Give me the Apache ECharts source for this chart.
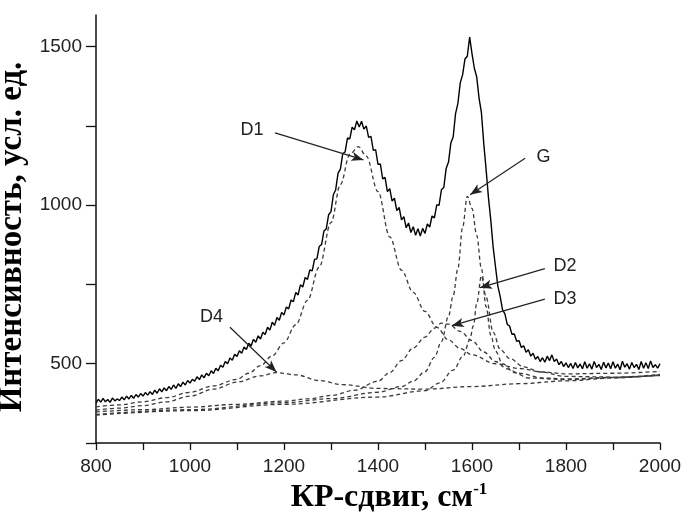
<!DOCTYPE html>
<html>
<head>
<meta charset="utf-8">
<script src="https://cdn.jsdelivr.net/npm/echarts@6/dist/echarts.min.js"></script>
<style>html,body{margin:0;padding:0;background:#fff}#c{width:690px;height:516px}</style>
</head>
<body>
<div id="c"></div>
<script>
// Measured Raman spectrum (raman shift, cm-1) and intensity (a.u.)
const measuredShift = [
800,805,810,815,820,825,830,835,840,845,
850,855,860,865,870,875,880,885,890,895,
900,905,910,915,920,925,930,935,940,945,
950,955,960,965,970,975,980,985,990,995,
1000,1005,1010,1015,1020,1025,1030,1035,1040,1045,
1050,1055,1060,1065,1070,1075,1080,1085,1090,1095,
1100,1105,1110,1115,1120,1125,1130,1135,1140,1145,
1150,1155,1160,1165,1170,1175,1180,1185,1190,1195,
1200,1205,1210,1215,1220,1225,1230,1235,1240,1245,
1250,1255,1260,1265,1270,1275,1280,1285,1290,1295,
1300,1305,1310,1315,1320,1325,1330,1335,1340,1345,
1350,1355,1360,1365,1370,1375,1380,1385,1390,1395,
1400,1405,1410,1415,1420,1425,1430,1435,1440,1445,
1450,1455,1460,1465,1470,1475,1480,1485,1490,1495,
1500,1505,1510,1515,1520,1525,1530,1535,1540,1545,
1550,1555,1560,1565,1570,1575,1580,1585,1590,1595,
1600,1605,1610,1615,1620,1625,1630,1635,1640,1645,
1650,1655,1660,1665,1670,1675,1680,1685,1690,1695,
1700,1705,1710,1715,1720,1725,1730,1735,1740,1745,
1750,1755,1760,1765,1770,1775,1780,1785,1790,1795,
1800,1805,1810,1815,1820,1825,1830,1835,1840,1845,
1850,1855,1860,1865,1870,1875,1880,1885,1890,1895,
1900,1905,1910,1915,1920,1925,1930,1935,1940,1945,
1950,1955,1960,1965,1970,1975,1980,1985,1990,1995,
2000];
const measuredIntensity = [
376,388,379,391,380,387,378,392,383,389,
384,395,386,398,389,400,391,403,395,406,
398,409,401,412,403,417,407,421,411,424,
415,428,419,433,422,437,428,442,433,447,
439,451,445,459,450,465,456,470,462,478,
469,486,478,495,489,507,500,518,511,530,
523,541,533,553,545,565,556,577,568,588,
578,599,592,615,606,631,621,646,637,662,
654,679,673,701,696,725,717,749,742,772,
766,796,793,829,831,870,876,919,926,970,
980,1033,1049,1101,1114,1163,1168,1212,1209,1246,
1238,1266,1247,1265,1240,1250,1214,1217,1173,1175,
1129,1130,1083,1088,1043,1052,1013,1022,983,993,
954,964,929,944,914,932,905,926,903,927,
911,941,931,966,960,1001,1000,1049,1056,1116,
1136,1196,1216,1289,1321,1386,1411,1461,1470,1530,
1478,1432,1405,1338,1293,1195,1113,1024,953,868,
806,745,712,670,657,624,619,593,594,571,
573,551,557,536,544,524,533,514,523,507,
519,505,524,510,528,507,515,497,507,491,
503,488,501,485,504,487,499,484,506,486,
500,483,507,488,498,482,505,487,502,484,
506,486,499,481,508,489,500,483,504,488,
498,482,507,486,503,485,509,488,497,486,
500];

// Fitted components (each drawn on top of the linear background)
const d1Shift = [800,850,900,950,1000,1050,1100,1125,1150,1175,1200,1225,1250,1275,1300,1320,1340,1358,1375,1400,1425,1450,1475,1500,1525,1550,1575,1600,1650,1700,1750,1800,1900,2000];
const d1Value = [364,370,380,393,410,430,451,470,494,525,566,623,700,805,945,1065,1160,1185,1155,1043,900,795,725,665,615,575,548,528,500,485,474,468,470,476];

const d4Shift = [800,850,900,950,1000,1050,1100,1150,1184,1225,1275,1325,1400,1500,1600,1700,1800,1900,2000];
const d4Value = [354,360,368,380,398,420,442,462,472,465,447,434,422,420,428,437,446,455,465];

const d3Shift = [800,900,1000,1100,1200,1250,1300,1350,1400,1425,1450,1475,1500,1520,1535,1550,1575,1600,1625,1650,1675,1700,1750,1800,1900,2000];
const d3Value = [348,355,363,372,382,389,400,416,445,472,510,550,584,612,628,625,602,573,537,507,484,470,455,452,457,466];

const gShift = [800,1000,1200,1300,1400,1450,1475,1500,1520,1535,1550,1560,1570,1580,1590,1600,1610,1620,1630,1640,1650,1665,1690,1720,1800,1900,2000];
const gValue = [340,355,377,390,410,428,445,475,520,570,650,715,800,930,1028,990,905,800,680,590,540,500,472,455,450,456,464];

const d2Shift = [800,1000,1200,1400,1500,1532,1560,1582,1595,1603,1610,1620,1630,1645,1660,1681,1710,1745,1800,1900,2000];
const d2Value = [338,352,372,395,415,440,480,526,575,620,690,777,710,600,545,516,490,474,460,458,463];

// Band labels and arrow (start -> end) in data units
const bandNames = ['D1','G','D2','D3','D4'];
const labelPos  = [[1132,1237],[1752,1153],[1798,808],[1798,704],[1046,646]];
const arrowFrom = [[1181,1228],[1713,1148],[1755,800],[1755,704],[1085,615]];
const arrowTo   = [[1369,1143],[1596,1033],[1617,740],[1557,620],[1184,474]];

const xTicks = [800,900,1000,1100,1200,1300,1400,1500,1600,1700,1800,1900,2000];
const xLabels = [800,1000,1200,1400,1600,1800,2000];
const yTicks = [250,500,750,1000,1250,1500];
const yLabels = [500,1000,1500];

function pairs(xs, ys){ return xs.map((x,i)=>[x, ys[i]]); }

const dashStyle = {color:'#3a3a3a', width:1.3, type:[4,3]};
function comp(name, xs, ys){
  return {name, type:'line', data:pairs(xs,ys), showSymbol:false, smooth:0.35, smoothMonotone:'x',
          lineStyle:dashStyle, z:2, silent:true};
}

const chart = echarts.init(document.getElementById('c'), null, {renderer:'canvas'});
const axisCol = '#111';
chart.setOption({
  animation:false,
  backgroundColor:'#fff',
  grid:{left:96, right:30, top:15, bottom:73, containLabel:false, outerBoundsMode:'none'},
  xAxis:{
    type:'value', min:800, max:2000, interval:100,
    axisLine:{onZero:false, lineStyle:{color:axisCol, width:1.5}},
    axisTick:{show:true, length:7, customValues:xTicks, lineStyle:{color:axisCol, width:1.3}},
    axisLabel:{customValues:xLabels, margin:14, fontSize:19, fontFamily:'Liberation Sans', color:'#222',
               formatter:v=> (xLabels.indexOf(v)>=0 ? String(v) : '')},
    splitLine:{show:false},
    name:'{a|КР-сдвиг, см}{s|-1}', nameLocation:'middle', nameGap:36,
    nameTextStyle:{padding:[0,0,0,22], rich:{
      a:{fontFamily:'Liberation Serif', fontWeight:'bold', fontSize:32, color:'#000', lineHeight:34},
      s:{fontFamily:'Liberation Serif', fontWeight:'bold', fontSize:17, color:'#000', lineHeight:17, verticalAlign:'top'}
    }}
  },
  yAxis:{
    type:'value', min:250, max:1600, interval:250,
    axisLine:{show:true, onZero:false, lineStyle:{color:axisCol, width:1.5}},
    axisTick:{show:true, length:10, customValues:yTicks, lineStyle:{color:axisCol, width:1.3}},
    axisLabel:{customValues:yLabels, margin:14, fontSize:19, fontFamily:'Liberation Sans', color:'#222',
               formatter:v=> (yLabels.indexOf(v)>=0 ? String(v) : '')},
    splitLine:{show:false},
    name:'Интенсивность, усл. ед.', nameLocation:'middle', nameGap:46, nameRotate:90,
    nameTextStyle:{fontFamily:'Liberation Serif', fontWeight:'bold', fontSize:33, color:'#000', padding:[0,16,0,0]}
  },
  series:[
    comp('D1', d1Shift, d1Value),
    comp('D4', d4Shift, d4Value),
    comp('D3', d3Shift, d3Value),
    comp('G', gShift, gValue),
    comp('D2', d2Shift, d2Value),
    {
      name:'measured', type:'line', data:pairs(measuredShift, measuredIntensity),
      showSymbol:false, lineStyle:{color:'#000', width:1.4}, z:3, silent:true,
      markLine:{
        silent:true, symbol:['none','arrow'], symbolSize:12, precision:0,
        lineStyle:{type:'solid', color:'#222', width:1.2},
        label:{show:false},
        data: arrowFrom.map((a,i)=>[{coord:a, symbol:'none'},{coord:arrowTo[i], symbol:'arrow', symbolSize:[7,12]}])
      },
      markPoint:{
        silent:true, symbol:'circle', symbolSize:1,
        itemStyle:{color:'rgba(0,0,0,0)'},
        label:{show:true, position:'inside', formatter:'{b}', fontSize:18, fontFamily:'Liberation Sans', color:'#222'},
        data: bandNames.map((n,i)=>({name:n, coord:labelPos[i]}))
      }
    }
  ]
});
</script>
</body>
</html>
